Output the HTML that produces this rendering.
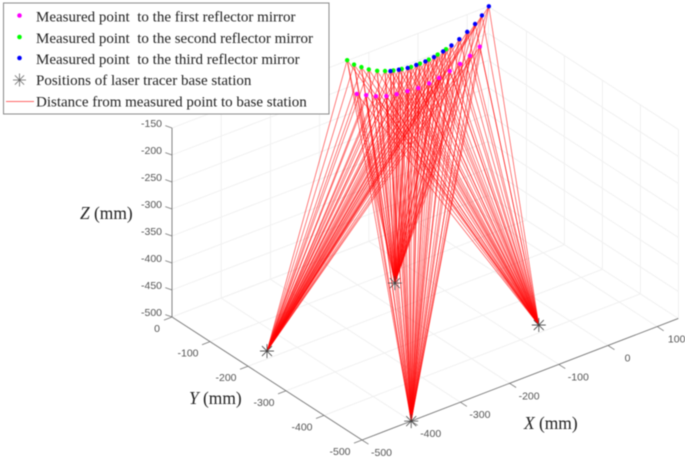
<!DOCTYPE html>
<html lang="en">
<head>
<meta charset="utf-8">
<title>Laser tracer measured points 3D chart</title>
<style>
html,body{margin:0;padding:0;background:#fff;width:685px;height:460px;overflow:hidden}
svg{display:block;filter:blur(0.45px)}
.tick{font-family:"Liberation Sans",sans-serif;font-size:10.5px;fill:#555}
.axt{font-family:"Liberation Serif",serif;font-size:17.4px;fill:#222}
.leg{font-family:"Liberation Serif",serif;font-size:15px;fill:#222;white-space:pre}
</style>
</head>
<body>
<svg id="chart" xmlns="http://www.w3.org/2000/svg" width="685" height="460" viewBox="0 0 685 460">
  <g id="grid"></g>
  <g id="axes"></g>
  <g id="rays"></g>
  <g id="points"></g>
  <g id="stations"></g>
  <text class="axt" x="80" y="219"><tspan font-style="italic">Z</tspan> (mm)</text>
  <text class="axt" x="189" y="404"><tspan font-style="italic">Y</tspan> (mm)</text>
  <text class="axt" x="524" y="429"><tspan font-style="italic">X</tspan> (mm)</text>
  <g>
    <rect x="3.5" y="3" width="325.5" height="111" fill="#fff" stroke="#8a8a8a" stroke-width="1"/>
    <circle cx="19.5" cy="15.5" r="2.3" fill="#f0f"/>
    <text class="leg" x="36" y="21.5">Measured point  to the first reflector mirror</text>
    <circle cx="19.5" cy="37" r="2.3" fill="#0f0"/>
    <text class="leg" x="36" y="43">Measured point  to the second reflector mirror</text>
    <circle cx="19.5" cy="58" r="2.3" fill="#00f"/>
    <text class="leg" x="36" y="64">Measured point  to the third reflector mirror</text>
    <path d="M13 80H26M19.5 73.5V86.5M14.9 75.4L24.1 84.6M14.9 84.6L24.1 75.4" stroke="#666" stroke-width="0.8" fill="none"/>
    <text class="leg" x="36" y="85">Positions of laser tracer base station</text>
    <line x1="6" y1="101.5" x2="34" y2="101.5" stroke="#f66" stroke-width="1"/>
    <text class="leg" x="36" y="106.5">Distance from measured point to base station</text>
  </g>
</svg>
<script>
var xTicks = [-500, -400, -300, -200, -100, 0, 100];
var yTicks = [0, -100, -200, -300, -400, -500];
var zTicks = [-150, -200, -250, -300, -350, -400, -450, -500];

var firstX = [-163, -144, -124, -103, -82, -60, -38, -16, 4, 26, 47, 67, 87];
var firstY = [-50, -50, -50, -50, -50, -50, -50, -50, -50, -50, -50, -50, -50];
var firstZ = [-182, -191, -200, -207, -211, -213, -215, -214, -211, -206, -200, -192, -182];

var secondX = [-144, -130, -115, -100, -83, -67, -50, -33, -14, 4, 22, 40, 57];
var secondY = [0, 0, 0, 0, 0, 0, 0, 0, 0, 0, 0, 0, 0];
var secondZ = [-149, -162, -172, -181.5, -190, -196, -201, -204, -207, -207, -206, -203, -199];

var thirdX = [-56, -39, -21, -3.5, 15, 32.5, 51, 68, 84, 100, 116, 130, 144];
var thirdY = [0, 0, 0, 0, 0, 0, 0, 0, 0, 0, 0, 0, 0];
var thirdZ = [-200, -203.5, -206.5, -207, -207, -205, -201, -196, -190, -182, -173, -162, -150];

var stationX = [-446, -149, -400, -48];
var stationY = [-180, -132, -500, -380];
var stationZ = [-500, -500, -500, -500];

var xMin = -500, xMax = 143, yMin = -500, yMax = 0, zMin = -500, zMax = -150;

function sx(x, y) { return 172 + (x - xMin) * 0.492 + (yMax - y) * 0.38; }
function sy(x, y, z) { return 317 - (x - xMin) * 0.189 + (yMax - y) * 0.246 - (z - zMin) * 0.54; }

var NS = 'http://www.w3.org/2000/svg';
function seg(parent, x1, y1, z1, x2, y2, z2, color, width, opacity) {
  var l = document.createElementNS(NS, 'line');
  l.setAttribute('x1', sx(x1, y1).toFixed(2));
  l.setAttribute('y1', sy(x1, y1, z1).toFixed(2));
  l.setAttribute('x2', sx(x2, y2).toFixed(2));
  l.setAttribute('y2', sy(x2, y2, z2).toFixed(2));
  l.setAttribute('stroke', color);
  l.setAttribute('stroke-width', width);
  if (opacity) l.setAttribute('stroke-opacity', opacity);
  parent.appendChild(l);
  return l;
}
function label(parent, x, y, txt, anchor) {
  var t = document.createElementNS(NS, 'text');
  t.setAttribute('class', 'tick');
  t.setAttribute('x', x.toFixed(1));
  t.setAttribute('y', y.toFixed(1));
  t.setAttribute('text-anchor', anchor);
  t.textContent = txt;
  parent.appendChild(t);
  return t;
}

var grid = document.getElementById('grid');
var axes = document.getElementById('axes');
var rays = document.getElementById('rays');
var pts = document.getElementById('points');
var sts = document.getElementById('stations');
var gridColor = '#efefef', axisColor = '#777';
var el, i, j;

xTicks.forEach(function (v) {
  var g1 = seg(grid, v, yMin, zMin, v, yMax, zMin, gridColor, 0.9);
  
  
  var g2 = seg(grid, v, yMax, zMin, v, yMax, zMax, gridColor, 0.9);
  
  
  var px = sx(v, yMin), py = sy(v, yMin, zMin);
  var tk = document.createElementNS(NS, 'line');
  tk.setAttribute('x1', px); tk.setAttribute('y1', py);
  tk.setAttribute('x2', px + 6.5); tk.setAttribute('y2', py + 4.2);
  tk.setAttribute('stroke', axisColor); tk.setAttribute('stroke-width', 0.8);
  axes.appendChild(tk);
  
  
  var lb = label(axes, px + 19.5, py + 16, String(v), 'middle');
  
  
});

yTicks.forEach(function (v) {
  var g1 = seg(grid, xMin, v, zMin, xMax, v, zMin, gridColor, 0.9);
  
  
  var g2 = seg(grid, xMax, v, zMin, xMax, v, zMax, gridColor, 0.9);
  
  
  var px = sx(xMin, v), py = sy(xMin, v, zMin);
  var tk = document.createElementNS(NS, 'line');
  tk.setAttribute('x1', px); tk.setAttribute('y1', py);
  tk.setAttribute('x2', px - 8); tk.setAttribute('y2', py + 3.1);
  tk.setAttribute('stroke', axisColor); tk.setAttribute('stroke-width', 0.8);
  axes.appendChild(tk);
  
  
  var lb = label(axes, px - 22, py + 15, String(v), 'middle');
  if (v === 0) { lb.setAttribute('x', (px - 15).toFixed(1)); }
  
  
});

zTicks.forEach(function (v) {
  var g1 = seg(grid, xMin, yMax, v, xMax, yMax, v, gridColor, 0.9);
  
  
  var g2 = seg(grid, xMax, yMax, v, xMax, yMin, v, gridColor, 0.9);
  
  
  var px = sx(xMin, yMax), py = sy(xMin, yMax, v);
  var tk = document.createElementNS(NS, 'line');
  tk.setAttribute('x1', px); tk.setAttribute('y1', py);
  tk.setAttribute('x2', px - 6.7); tk.setAttribute('y2', py - 2.4);
  tk.setAttribute('stroke', axisColor); tk.setAttribute('stroke-width', 0.8);
  axes.appendChild(tk);
  
  
  var lb = label(axes, px - 10, py - 1, String(v), 'end');
  
  
});

el = seg(axes, xMin, yMax, zMin, xMin, yMax, zMax, axisColor, 0.9);


el = seg(axes, xMin, yMax, zMin, xMin, yMin, zMin, axisColor, 0.9);


el = seg(axes, xMin, yMin, zMin, xMax, yMin, zMin, axisColor, 0.9);



var series = [
  { x: firstX, y: firstY, z: firstZ, color: '#f0f', name: 'first-mirror-point' },
  { x: secondX, y: secondY, z: secondZ, color: '#0f0', name: 'second-mirror-point' },
  { x: thirdX, y: thirdY, z: thirdZ, color: '#00f', name: 'third-mirror-point' }
];

series.forEach(function (s) {
  for (i = 0; i < s.x.length; i++) {
    for (j = 0; j < stationX.length; j++) {
      el = seg(rays, s.x[i], s.y[i], s.z[i], stationX[j], stationY[j], stationZ[j], '#f00', 0.75, 0.68);
      
      
    }
  }
});

series.forEach(function (s) {
  for (i = 0; i < s.x.length; i++) {
    var c = document.createElementNS(NS, 'circle');
    c.setAttribute('cx', sx(s.x[i], s.y[i]).toFixed(2));
    c.setAttribute('cy', sy(s.x[i], s.y[i], s.z[i]).toFixed(2));
    c.setAttribute('r', 2.2);
    c.setAttribute('fill', s.color);
    pts.appendChild(c);
    
    
  }
});

for (j = 0; j < stationX.length; j++) {
  var cx = sx(stationX[j], stationY[j]);
  var cy = sy(stationX[j], stationY[j], stationZ[j]);
  var r = 7, d = 5;
  var star = document.createElementNS(NS, 'path');
  star.setAttribute('d', 'M' + (cx - r) + ' ' + cy + 'H' + (cx + r) +
    'M' + cx + ' ' + (cy - r) + 'V' + (cy + r) +
    'M' + (cx - d) + ' ' + (cy - d) + 'L' + (cx + d) + ' ' + (cy + d) +
    'M' + (cx - d) + ' ' + (cy + d) + 'L' + (cx + d) + ' ' + (cy - d));
  star.setAttribute('stroke', '#444');
  star.setAttribute('stroke-width', 0.8);
  star.setAttribute('fill', 'none');
  sts.appendChild(star);
  
  
}
</script>
</body>
</html>
